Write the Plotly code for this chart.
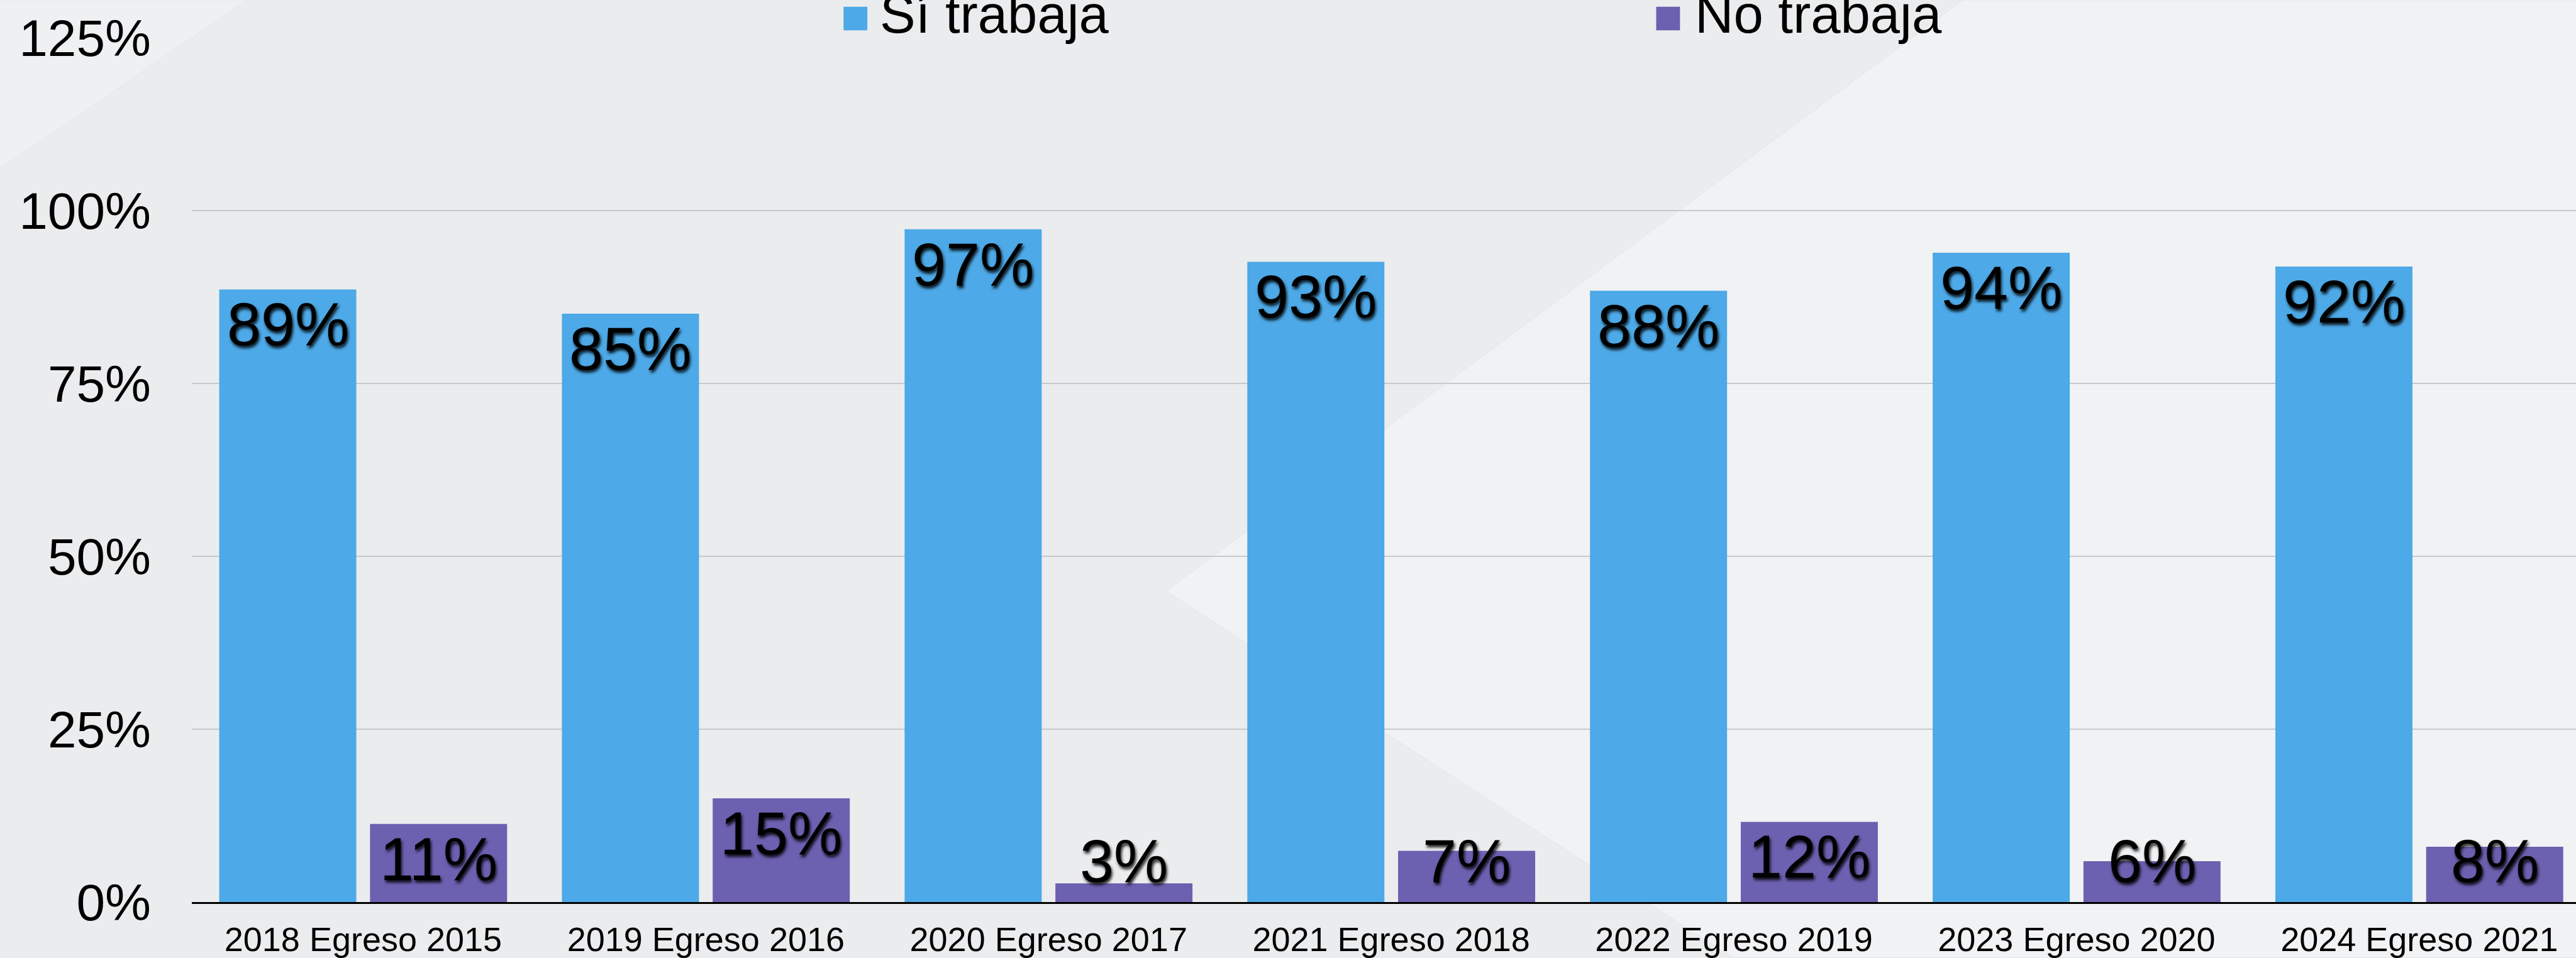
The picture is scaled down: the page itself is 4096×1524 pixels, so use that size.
import plotly.graph_objects as go

# ---------------- data ----------------
categories = ["2018 Egreso 2015", "2019 Egreso 2016", "2020 Egreso 2017", "2021 Egreso 2018",
              "2022 Egreso 2019", "2023 Egreso 2020", "2024 Egreso 2021"]
series_names = ["Sí trabaja", "No trabaja"]
si_trabaja = [0.886, 0.851, 0.973, 0.926, 0.884, 0.939, 0.919]
no_trabaja = [0.113, 0.150, 0.027, 0.074, 0.116, 0.059, 0.080]
y_tick_vals = [0, 0.25, 0.50, 0.75, 1.00, 1.25]
y_tick_text = ["0%", "25%", "50%", "75%", "100%", "125%"]

# ---------------- style ----------------
W, H = 4096, 1524
S = 0.901
FONT = "Liberation Sans, Arial, Helvetica, sans-serif"
BLUE = "#4DA9E7"
PURPLE = "#6C60B0"
BG = "#EBECEE"
BG_LIGHT = "#F1F2F4"
BG_TL = "#EEF0F2"

ML = 339 * S
MT = 67 * S
MB = H - 1601 * S
MR = 0
PW = W - ML - MR
PH = H - MT - MB

BAR_W = 0.40
OFFSETS = [-0.42, 0.02]
CAT_PX = 604.7 * S
X_RANGE = [-0.5, -0.5 + PW / CAT_PX]

LABEL_SIZE = 97
LABEL_MIN = 0.110  # labels of short bars sit at this height


def px2paper_x(px):
    return (px - ML) / PW


def px2paper_y(py):
    return 1 - (py - MT) / PH


fig = go.Figure()
for name, vals, col, off in zip(series_names, [si_trabaja, no_trabaja], [BLUE, PURPLE], OFFSETS):
    fig.add_trace(go.Bar(
        x=categories, y=vals, name=name,
        marker=dict(color=col, line=dict(width=0)),
        width=BAR_W, offset=off, showlegend=False,
        hoverinfo="skip",
    ))

annotations = []
for vals, off in zip([si_trabaja, no_trabaja], OFFSETS):
    for i, v in enumerate(vals):
        annotations.append(dict(
            x=i + off + BAR_W / 2, y=max(v, LABEL_MIN), xref="x", yref="y",
            text=f"{v:.0%}", showarrow=False, xanchor="center", yanchor="top",
            borderpad=0, yshift=0,
            font=dict(family=FONT, size=LABEL_SIZE, color="black",
                      shadow="2px 4px 4px rgba(0,0,0,0.85)"),
        ))

# manual legend (large swatches)
legend_sw_px = [(1489, 1531), (2923, 2965)]
legend_tx_px = [1552, 2990]
shapes = []
for (x0, x1), tx, name, col in zip(legend_sw_px, legend_tx_px, series_names, [BLUE, PURPLE]):
    shapes.append(dict(type="rect", xref="paper", yref="paper",
                       x0=px2paper_x(x0 * S), x1=px2paper_x(x1 * S),
                       y0=px2paper_y(54 * S), y1=px2paper_y(12 * S),
                       fillcolor=col, line=dict(width=0), layer="above"))
    annotations.append(dict(
        x=px2paper_x(tx * S), y=1, xref="paper", yref="paper",
        text=name, showarrow=False, xanchor="left", yanchor="middle",
        yshift=MT - (58 * S - 0.3465 * 85), borderpad=0,
        font=dict(family=FONT, size=85, color="black"),
    ))

# background decoration
def poly(points):
    pts = [(px2paper_x(x * S), px2paper_y(y * S)) for x, y in points]
    return "M " + " L ".join(f"{a:.5f},{b:.5f}" for a, b in pts) + " Z"

shapes.insert(0, dict(type="path", xref="paper", yref="paper", layer="below",
                      path=poly([(0, 0), (437, 0), (0, 300)]),
                      fillcolor=BG_TL, line=dict(color="#E3E4E6", width=1)))
shapes.insert(1, dict(type="path", xref="paper", yref="paper", layer="below",
                      path=poly([(3464, 0), (4600, 0), (4600, 1700), (3058, 1700), (2058, 1049)]),
                      fillcolor=BG_LIGHT, line=dict(color="#E3E4E6", width=1)))

fig.update_layout(
    width=W, height=H,
    margin=dict(l=ML, r=MR, t=MT, b=MB, pad=0),
    paper_bgcolor=BG, plot_bgcolor="rgba(0,0,0,0)",
    barmode="group",
    font=dict(family=FONT, color="black"),
    annotations=annotations, shapes=shapes,
    xaxis=dict(range=X_RANGE, showgrid=False, zeroline=False,
               showline=True, linecolor="black", linewidth=3,
               ticks="", tickfont=dict(size=54, family=FONT, color="black"),
               ticklabelstandoff=10),
    yaxis=dict(range=[0, 1.25], tickvals=y_tick_vals, ticktext=y_tick_text,
               showgrid=True, gridcolor="#C8C9CC", gridwidth=2, zeroline=False,
               showline=False, ticks="",
               tickfont=dict(size=82, family=FONT, color="black"),
               ticklabelstandoff=64),
)

fig.write_html(
    "out.html",
    config={"displayModeBar": False},
    post_script="document.body.style.margin='0';document.body.style.padding='0';"
                "document.body.style.overflow='hidden';",
)
